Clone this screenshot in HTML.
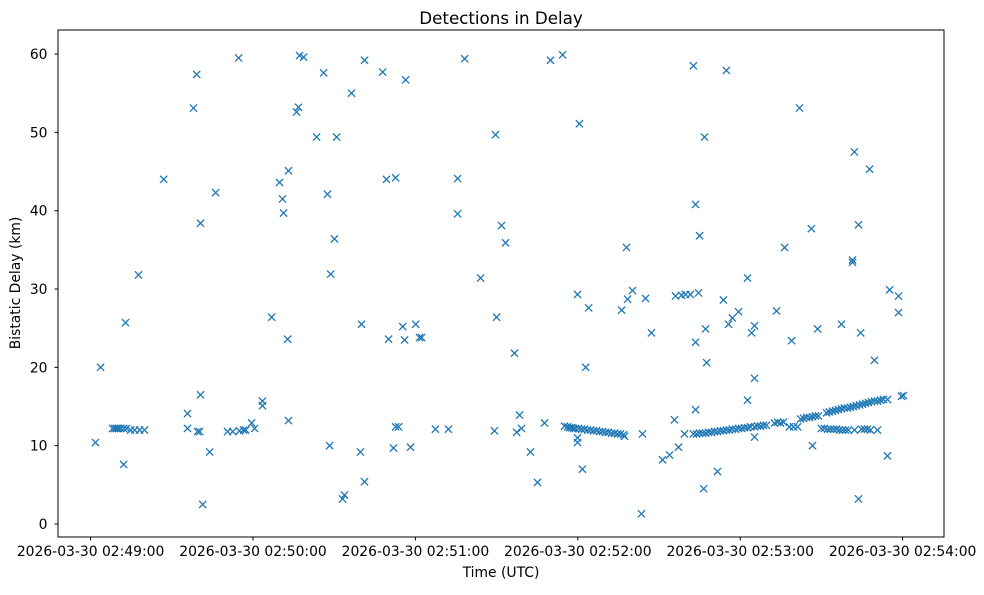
<!DOCTYPE html>
<html><head><meta charset="utf-8"><style>
html,body{margin:0;padding:0;background:#fff;}
svg text{font-family:"DejaVu Sans","Liberation Sans",sans-serif;fill:#000;}
</style></head><body>
<svg id="chart" width="984" height="590" viewBox="0 0 984 590" xmlns="http://www.w3.org/2000/svg">
<rect width="984" height="590" fill="#fff"/>
<text x="501" y="24" font-size="16.7" text-anchor="middle">Detections in Delay</text>
<g id="marks"></g>
<rect x="58" y="30" width="886" height="507" fill="none" stroke="#000" stroke-width="1"/>
<g id="xticks"></g><g id="yticks"></g>
<text x="501" y="577" font-size="13.9" text-anchor="middle">Time (UTC)</text>
<text transform="translate(20,283) rotate(-90)" font-size="13.9" text-anchor="middle">Bistatic Delay (km)</text>
</svg>
<script>
// seconds after 02:49:00
const times=[1.8,3.7,8.1,8.9,9.6,10.3,11.1,12.2,12.2,12.9,13.3,14.8,16.3,17.7,18.1,19.9,27.0,35.8,35.8,38.0,39.2,39.5,40.3,40.6,40.6,41.4,44.0,46.2,50.6,52.5,54.7,55.0,56.5,57.3,59.5,60.6,63.5,63.5,66.9,69.8,70.9,71.3,72.8,73.1,73.1,76.1,76.8,77.2,78.7,83.5,86.1,87.5,88.3,88.7,90.1,90.9,93.1,93.8,96.4,99.7,100.1,101.2,101.2,107.9,109.3,110.1,111.9,112.7,112.7,113.8,115.3,116.0,116.4,118.2,120.1,121.5,122.3,127.4,132.2,135.6,135.6,138.2,144.1,149.2,149.6,150.0,151.8,153.3,156.6,157.4,158.5,159.2,162.5,165.1,167.7,169.9,174.4,175.1,176.2,176.9,177.7,178.4,179.2,179.9,179.9,179.9,180.3,180.6,181.4,181.7,182.5,182.9,183.6,184.0,184.7,185.8,186.9,188.0,189.1,190.2,191.3,192.5,193.6,194.7,195.8,196.2,196.9,197.3,198.0,198.4,200.2,203.5,203.9,205.0,207.2,211.3,213.9,215.7,216.1,217.2,218.3,219.4,219.8,221.6,222.7,222.7,223.5,223.5,223.5,223.9,224.6,225.0,225.0,226.1,226.5,226.8,227.2,227.2,227.6,228.3,229.4,230.5,231.6,231.6,232.7,233.8,233.8,234.9,234.9,235.7,236.0,237.1,237.1,238.3,239.4,239.4,240.5,241.6,242.7,242.7,242.7,243.8,244.2,245.3,245.3,245.3,245.3,246.4,247.5,248.6,249.7,252.7,253.4,253.8,254.9,256.0,256.4,258.2,259.0,259.7,261.2,261.9,262.3,263.4,264.5,265.6,266.3,266.7,266.7,267.8,268.6,268.9,270.0,271.1,271.9,272.3,272.9,273.4,274.1,274.5,275.2,275.6,276.3,276.7,277.4,277.4,277.8,278.5,278.9,279.6,280.0,280.7,281.5,281.5,281.8,282.2,282.2,282.9,283.7,283.7,284.1,284.5,284.8,285.2,285.9,286.3,287.0,287.4,287.8,288.1,288.5,289.6,289.6,290.7,290.7,291.8,292.9,294.4,294.4,295.2,298.5,298.5,299.6,300.3];
const delays=[10.4,20.0,12.2,12.2,12.2,12.2,12.2,12.2,7.6,25.7,12.2,12.0,12.0,31.8,12.0,12.0,44.0,14.1,12.2,53.1,57.4,11.8,11.8,16.5,38.4,2.5,9.2,42.3,11.8,11.8,59.5,11.9,12.0,12.0,12.9,12.2,15.7,15.1,26.4,43.6,41.5,39.7,23.6,45.1,13.2,52.6,53.2,59.8,59.6,49.4,57.6,42.1,10.0,31.9,36.4,49.4,3.2,3.7,55.0,9.2,25.5,59.2,5.4,57.7,44.0,23.6,9.7,44.2,12.4,12.4,25.2,23.5,56.7,9.8,25.5,23.8,23.8,12.1,12.1,44.1,39.6,59.4,31.4,11.9,49.7,26.4,38.1,35.9,21.8,11.7,13.9,12.2,9.2,5.3,12.9,59.2,59.9,12.5,12.4,12.3,12.3,12.2,12.2,29.3,11.0,10.4,12.2,51.1,12.1,7.0,12.1,20.0,12.0,27.6,12.0,11.9,11.9,11.8,11.8,11.7,11.7,11.6,11.6,11.5,11.5,27.3,11.4,11.2,35.3,28.7,29.8,1.3,11.5,28.8,24.4,8.2,8.8,13.3,29.1,9.8,29.2,11.5,29.3,29.3,58.5,11.5,40.8,23.2,14.6,11.5,29.5,36.8,11.6,11.6,4.5,49.4,24.9,11.6,20.6,11.7,11.7,11.8,6.7,11.8,11.9,28.6,11.9,57.9,12.0,25.5,12.0,26.3,12.1,12.1,27.1,12.2,12.2,12.3,15.8,31.4,12.3,12.4,24.4,11.1,18.6,25.3,12.4,12.5,12.5,12.6,12.6,12.9,27.2,13.0,12.9,13.0,35.3,12.4,23.4,12.4,12.4,53.1,13.4,13.5,13.6,13.6,37.7,10.0,13.7,13.8,24.9,13.8,12.2,12.2,14.2,12.1,14.3,12.1,14.4,12.1,14.5,12.1,14.6,12.0,25.5,14.7,12.0,14.8,12.0,14.8,12.0,14.9,33.7,33.4,15.0,47.5,12.0,15.1,38.2,3.2,15.2,24.4,12.1,15.3,12.1,15.4,12.1,15.5,45.3,12.0,15.6,20.9,15.7,12.0,15.7,15.8,15.9,8.7,15.9,29.9,29.1,27.0,16.3,16.4];
const xTickSecs=[0,60,120,180,240,300];
const xTickLabels=["2026-03-30 02:49:00","2026-03-30 02:50:00","2026-03-30 02:51:00","2026-03-30 02:52:00","2026-03-30 02:53:00","2026-03-30 02:54:00"];
const yTickVals=[0,10,20,30,40,50,60];

const NS="http://www.w3.org/2000/svg";
function xs(s){return 90.6+s*2.7067;}
function ys(v){return 524-v*7.833;}
function mk(tag,attrs,parent){const e=document.createElementNS(NS,tag);for(const k in attrs)e.setAttribute(k,attrs[k]);parent.appendChild(e);return e;}
const xt=document.getElementById('xticks'),yt=document.getElementById('yticks'),mg=document.getElementById('marks');
xTickSecs.forEach((s,i)=>{
  const x=xs(s);
  const l=mk('line',{x1:x,x2:x,y1:537,y2:540.5,stroke:'#000','stroke-width':1},xt);
  
  
  const t=mk('text',{x:x,y:556,'font-size':13.9,'text-anchor':'middle'},xt);
  t.textContent=xTickLabels[i];
  
  
});
yTickVals.forEach(v=>{
  const y=ys(v);
  const l=mk('line',{x1:54.5,x2:58,y1:y,y2:y,stroke:'#000','stroke-width':1},yt);
  
  
  const t=mk('text',{x:47.5,y:y+5,'font-size':13.9,'text-anchor':'end'},yt);
  t.textContent=String(v);
  
  
});
times.forEach((s,i)=>{
  const cx=xs(s),cy=ys(delays[i]),r=3.6;
  const p=mk('path',{d:`M${cx-r},${cy-r}L${cx+r},${cy+r}M${cx-r},${cy+r}L${cx+r},${cy-r}`,stroke:'#1f77b4','stroke-width':1.3,fill:'none'},mg);
  
  
});
</script>
</body></html>
